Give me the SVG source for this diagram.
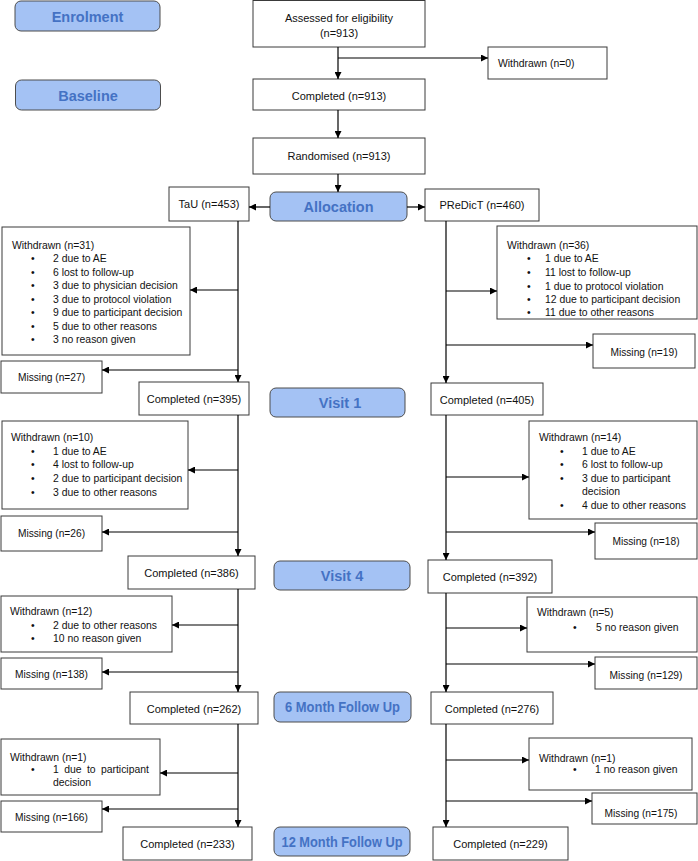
<svg xmlns="http://www.w3.org/2000/svg" width="698" height="861" viewBox="0 0 698 861">
<defs>
<marker id="ah" viewBox="0 0 10 10" refX="10" refY="5" markerWidth="7" markerHeight="7" markerUnits="userSpaceOnUse" orient="auto"><path d="M0,0 L10,5 L0,10 z" fill="#000"/></marker>
<style>
.box{fill:#fff;stroke:#3a3a3a;stroke-width:1}
.hdr{fill:#a4c2f4;stroke:#4d4d4d;stroke-width:1}
.t{font-family:"Liberation Sans",Arial,sans-serif;font-size:11px;fill:#111}
.l{font-family:"Liberation Sans",Arial,sans-serif;font-size:10.4px;fill:#111}
.m{font-family:"Liberation Sans",Arial,sans-serif;font-size:10.2px;fill:#111;text-anchor:middle}
.c{text-anchor:middle}
.h{font-family:"Liberation Sans",Arial,sans-serif;font-size:14.5px;font-weight:bold;fill:#4472c4;text-anchor:middle}
.ln{stroke:#000;stroke-width:1.2;fill:none}
.ar{stroke:#000;stroke-width:1.2;fill:none;marker-end:url(#ah)}
</style>
</defs>
<rect width="698" height="861" fill="#fff"/>

<g id="hdr-enrolment"><rect class="hdr" x="15" y="1" width="145" height="30" rx="6"/><text class="h" x="87.5" y="21.5">Enrolment</text></g>
<g id="hdr-baseline"><rect class="hdr" x="15.5" y="80" width="145" height="30" rx="6"/><text class="h" x="88" y="100.5">Baseline</text></g>
<g id="hdr-allocation"><rect class="hdr" x="270" y="192" width="137" height="29" rx="6"/><text class="h" x="338.5" y="212">Allocation</text></g>
<g id="hdr-visit1"><rect class="hdr" x="270" y="388" width="135" height="29" rx="6"/><text class="h" x="340" y="408" font-size="16">Visit 1</text></g>
<g id="hdr-visit4"><rect class="hdr" x="274" y="561" width="136" height="29" rx="6"/><text class="h" x="342" y="581" font-size="16">Visit 4</text></g>
<g id="hdr-6m"><rect class="hdr" x="274" y="692" width="137" height="30" rx="6"/><text class="h" x="342.5" y="712" font-size="14" textLength="115" lengthAdjust="spacingAndGlyphs">6 Month Follow Up</text></g>
<g id="hdr-12m"><rect class="hdr" x="274" y="827" width="136" height="29" rx="6"/><text class="h" x="342" y="847" font-size="14" textLength="121" lengthAdjust="spacingAndGlyphs">12 Month Follow Up</text></g>

<g id="assessed"><rect class="box" x="253" y="0.5" width="172" height="46.5"/><text class="t c" x="339" y="22">Assessed for eligibility</text><text class="t c" x="339" y="37">(n=913)</text></g>
<g id="withdrawn0"><rect class="box" x="488" y="47" width="119" height="32"/><text class="l" x="498" y="67">Withdrawn (n=0)</text></g>
<g id="completed913"><rect class="box" x="253" y="79" width="172" height="31"/><text class="t c" x="339" y="100">Completed (n=913)</text></g>
<g id="randomised"><rect class="box" x="253" y="138" width="172" height="36"/><text class="t c" x="339" y="160">Randomised (n=913)</text></g>
<g id="tau"><rect class="box" x="169" y="187" width="80" height="34"/><text class="t c" x="209" y="208">TaU (n=453)</text></g>
<g id="predict"><rect class="box" x="425" y="189" width="114" height="32"/><text class="t c" x="482" y="209">PReDicT (n=460)</text></g>

<g id="tau-w1"><rect class="box" x="2" y="227" width="188" height="128"/>
<text class="l" x="12" y="249">Withdrawn (n=31)</text>
<text class="l" x="31" y="262">•</text><text class="l" x="53" y="262">2 due to AE</text>
<text class="l" x="31" y="276">•</text><text class="l" x="53" y="276">6 lost to follow-up</text>
<text class="l" x="31" y="289">•</text><text class="l" x="53" y="289">3 due to physician decision</text>
<text class="l" x="31" y="303">•</text><text class="l" x="53" y="303">3 due to protocol violation</text>
<text class="l" x="31" y="316">•</text><text class="l" x="53" y="316">9 due to participant decision</text>
<text class="l" x="31" y="330">•</text><text class="l" x="53" y="330">5 due to other reasons</text>
<text class="l" x="31" y="343">•</text><text class="l" x="53" y="343">3 no reason given</text></g>
<g id="tau-m1"><rect class="box" x="1" y="361" width="101" height="32"/><text class="m" x="51.5" y="381">Missing (n=27)</text></g>
<g id="tau-c1"><rect class="box" x="139" y="382" width="110" height="33"/><text class="t c" x="194" y="403">Completed (n=395)</text></g>

<g id="pr-w1"><rect class="box" x="497" y="226" width="200" height="93"/>
<text class="l" x="507" y="249">Withdrawn (n=36)</text>
<text class="l" x="527" y="262">•</text><text class="l" x="545" y="262">1 due to AE</text>
<text class="l" x="527" y="276">•</text><text class="l" x="545" y="276">11 lost to follow-up</text>
<text class="l" x="527" y="290">•</text><text class="l" x="545" y="290">1 due to protocol violation</text>
<text class="l" x="527" y="303">•</text><text class="l" x="545" y="303">12 due to participant decision</text>
<text class="l" x="527" y="316">•</text><text class="l" x="545" y="316">11 due to other reasons</text></g>
<g id="pr-m1"><rect class="box" x="593" y="334" width="102" height="34"/><text class="m" x="644" y="356">Missing (n=19)</text></g>
<g id="pr-c1"><rect class="box" x="431" y="383" width="112" height="32"/><text class="t c" x="487" y="404">Completed (n=405)</text></g>

<g id="tau-w4"><rect class="box" x="2" y="421" width="186" height="88"/>
<text class="l" x="11" y="441">Withdrawn (n=10)</text>
<text class="l" x="31" y="455">•</text><text class="l" x="53" y="455">1 due to AE</text>
<text class="l" x="31" y="468">•</text><text class="l" x="53" y="468">4 lost to follow-up</text>
<text class="l" x="31" y="482">•</text><text class="l" x="53" y="482">2 due to participant decision</text>
<text class="l" x="31" y="496">•</text><text class="l" x="53" y="496">3 due to other reasons</text></g>
<g id="tau-m4"><rect class="box" x="1" y="516" width="101" height="35"/><text class="m" x="51.5" y="537">Missing (n=26)</text></g>
<g id="tau-c4"><rect class="box" x="128" y="556" width="127" height="33"/><text class="t c" x="191.5" y="577">Completed (n=386)</text></g>

<g id="pr-w4"><rect class="box" x="529" y="421" width="168" height="98"/>
<text class="l" x="539" y="441">Withdrawn (n=14)</text>
<text class="l" x="560" y="455">•</text><text class="l" x="582" y="455">1 due to AE</text>
<text class="l" x="560" y="468">•</text><text class="l" x="582" y="468">6 lost to follow-up</text>
<text class="l" x="560" y="482">•</text><text class="l" x="582" y="482">3 due to participant</text>
<text class="l" x="582" y="495">decision</text>
<text class="l" x="560" y="509">•</text><text class="l" x="582" y="509">4 due to other reasons</text></g>
<g id="pr-m4"><rect class="box" x="595" y="523" width="102" height="36"/><text class="m" x="646" y="545">Missing (n=18)</text></g>
<g id="pr-c4"><rect class="box" x="428" y="560" width="124" height="33"/><text class="t c" x="490" y="581">Completed (n=392)</text></g>

<g id="tau-w6"><rect class="box" x="1" y="596" width="171" height="56"/>
<text class="l" x="10" y="615">Withdrawn (n=12)</text>
<text class="l" x="31" y="629">•</text><text class="l" x="53" y="629">2 due to other reasons</text>
<text class="l" x="31" y="642">•</text><text class="l" x="53" y="642">10 no reason given</text></g>
<g id="tau-m6"><rect class="box" x="1" y="658" width="101" height="31"/><text class="m" x="51.5" y="678">Missing (n=138)</text></g>
<g id="tau-c6"><rect class="box" x="130" y="692" width="128" height="32"/><text class="t c" x="194" y="713">Completed (n=262)</text></g>

<g id="pr-w6"><rect class="box" x="527" y="597" width="170" height="55"/>
<text class="l" x="537" y="616">Withdrawn (n=5)</text>
<text class="l" x="573" y="631">•</text><text class="l" x="596" y="631">5 no reason given</text></g>
<g id="pr-m6"><rect class="box" x="595" y="657" width="102" height="32"/><text class="m" x="646" y="679">Missing (n=129)</text></g>
<g id="pr-c6"><rect class="box" x="431" y="692" width="122" height="32"/><text class="t c" x="492" y="713">Completed (n=276)</text></g>

<g id="tau-w12"><rect class="box" x="1" y="739" width="159" height="56"/>
<text class="l" x="10" y="761">Withdrawn (n=1)</text>
<text class="l" x="31" y="773">•</text><text class="l" x="53" y="773" word-spacing="2.5">1 due to participant</text>
<text class="l" x="53" y="786">decision</text></g>
<g id="tau-m12"><rect class="box" x="1" y="801" width="101" height="31"/><text class="m" x="51.5" y="821">Missing (n=166)</text></g>
<g id="tau-c12"><rect class="box" x="123" y="827" width="129" height="33"/><text class="t c" x="187.5" y="848">Completed (n=233)</text></g>

<g id="pr-w12"><rect class="box" x="529" y="738" width="163" height="52"/>
<text class="l" x="539" y="762">Withdrawn (n=1)</text>
<text class="l" x="573" y="773">•</text><text class="l" x="595" y="773">1 no reason given</text></g>
<g id="pr-m12"><rect class="box" x="592" y="793" width="105" height="31"/><text class="m" x="641" y="817">Missing (n=175)</text></g>
<g id="pr-c12"><rect class="box" x="433" y="827" width="135" height="33"/><text class="t c" x="500.5" y="848">Completed (n=229)</text></g>

<g id="connectors">
<path class="ar" d="M338,47 V79"/>
<path class="ar" d="M338,58 H488"/>
<path class="ar" d="M338,110 V138"/>
<path class="ar" d="M338,174 V192"/>
<path class="ar" d="M270,207 H249"/>
<path class="ar" d="M407,207 H425"/>

<path class="ar" d="M238,221 V382"/>
<path class="ar" d="M238,290 H190"/>
<path class="ar" d="M238,370 H102"/>
<path class="ar" d="M446,221 V383"/>
<path class="ar" d="M446,291 H497"/>
<path class="ar" d="M446,345 H593"/>

<path class="ar" d="M238,415 V556"/>
<path class="ar" d="M238,470 H188"/>
<path class="ar" d="M238,532 H102"/>
<path class="ar" d="M446,415 V560"/>
<path class="ar" d="M446,477 H529"/>
<path class="ar" d="M446,532 H595"/>

<path class="ar" d="M238,589 V692"/>
<path class="ar" d="M238,625 H172"/>
<path class="ar" d="M238,672 H102"/>
<path class="ar" d="M446,593 V692"/>
<path class="ar" d="M446,628 H527"/>
<path class="ar" d="M446,664 H595"/>

<path class="ar" d="M238,724 V827"/>
<path class="ar" d="M238,773 H160"/>
<path class="ar" d="M238,809 H102"/>
<path class="ar" d="M446,724 V827"/>
<path class="ar" d="M446,760 H529"/>
<path class="ar" d="M446,801 H592"/>
</g>
</svg>
